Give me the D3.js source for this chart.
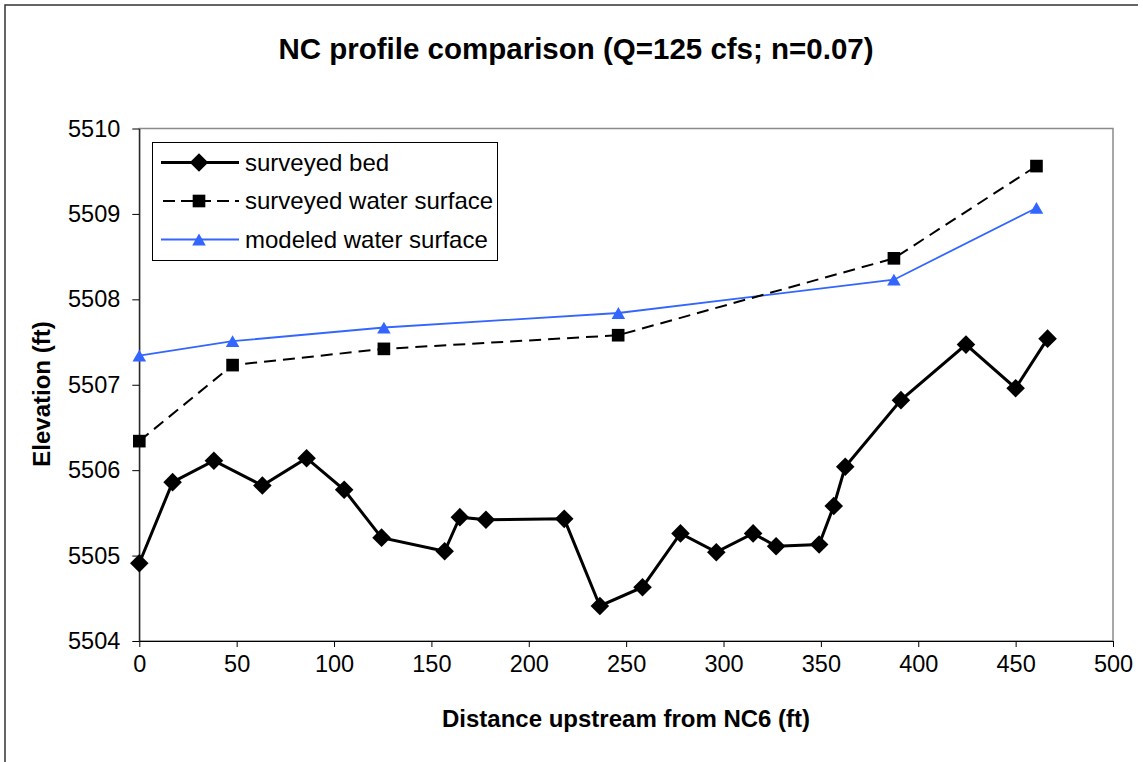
<!DOCTYPE html>
<html><head><meta charset="utf-8">
<script src="https://cdn.jsdelivr.net/npm/d3@7"></script>
<style>body{margin:0;background:#fff}svg{display:block}text{font-family:"Liberation Sans",Arial,sans-serif}</style>
</head><body><svg id="c" width="1143" height="762"></svg>
<script>
const bedX = [0,17.1,38.3,63.2,85.9,105.2,124.4,156.8,164.6,178,218.2,236.5,258.4,277.9,296.3,315.2,327,349.1,356.6,362.5,391.1,424.5,450,466.4];
const bedY = [5504.91,5505.86,5506.11,5505.82,5506.14,5505.77,5505.21,5505.05,5505.45,5505.42,5505.43,5504.41,5504.63,5505.26,5505.04,5505.26,5505.11,5505.13,5505.58,5506.04,5506.82,5507.47,5506.96,5507.54];
const wsX = [0,47.9,125.6,245.9,387.5,460.7];
const wsY = [5506.34,5507.23,5507.42,5507.58,5508.48,5509.56];
const modX = [0,47.9,125.6,246,387.5,460.7];
const modY = [5507.34,5507.51,5507.67,5507.84,5508.23,5509.07];
const xTicks = [0,50,100,150,200,250,300,350,400,450,500];
const yTicks = [5504,5505,5506,5507,5508,5509,5510];
const seriesNames = ["surveyed bed","surveyed water surface","modeled water surface"];

const svg = d3.select("#c");
const L=139.3,R=1113,T=128.5,B=641;
const x = d3.scaleLinear().domain([0,500]).range([L,R]);
const y = d3.scaleLinear().domain([5504,5510]).range([B,T]);

// outer frame (top & left)
svg.append("path").attr("d","M5,762V5H1138").attr("fill","none").attr("stroke","#333").attr("stroke-width",1.5);

// plot border
svg.append("rect").attr("x",L).attr("y",T).attr("width",R-L).attr("height",B-T)
  .attr("fill","#fff").attr("stroke","#8a8a8a").attr("stroke-width",1.5);

// axes
const xa = svg.append("g").attr("transform",`translate(0,${B})`)
  .call(d3.axisBottom(x).tickValues(xTicks).tickSize(6).tickPadding(8).tickSizeOuter(0));
xa.select(".domain").attr("stroke","#000");
xa.selectAll("text").attr("font-size",23.5).attr("fill","#000");
const ya = svg.append("g").attr("transform",`translate(${L},0)`)
  .call(d3.axisLeft(y).tickValues(yTicks).tickFormat(d3.format("d")).tickSize(7).tickPadding(12).tickSizeOuter(0));
ya.select(".domain").attr("stroke","#000");
ya.selectAll("text").attr("font-size",23.5).attr("fill","#000");

// titles
svg.append("text").attr("x",576).attr("y",59).attr("text-anchor","middle")
  .attr("font-size",29.5).attr("font-weight","bold").text("NC profile comparison (Q=125 cfs; n=0.07)");
svg.append("text").attr("x",626).attr("y",727).attr("text-anchor","middle")
  .attr("font-size",24).attr("font-weight","bold").text("Distance upstream from NC6 (ft)");
svg.append("text").attr("transform","translate(50,394) rotate(-90)").attr("text-anchor","middle")
  .attr("font-size",24).attr("font-weight","bold").text("Elevation (ft)");

const line = d3.line().x(d=>x(d[0])).y(d=>y(d[1]));
const bed = bedX.map((v,i)=>[v,bedY[i]]);
const ws = wsX.map((v,i)=>[v,wsY[i]]);
const mod = modX.map((v,i)=>[v,modY[i]]);

const blue="#3366ff";
svg.append("path").datum(mod).attr("d",line).attr("fill","none").attr("stroke",blue).attr("stroke-width",1.8);
svg.append("path").datum(ws).attr("d",line).attr("fill","none").attr("stroke","#000").attr("stroke-width",2).attr("stroke-dasharray","12,7");
svg.append("path").datum(bed).attr("d",line).attr("fill","none").attr("stroke","#000").attr("stroke-width",3);

const diamond = d3.symbol().type(d3.symbolDiamond2).size(220);
const square = d3.symbol().type(d3.symbolSquare).size(160);
const triSize = 80;
const tri = d3.symbol().type(d3.symbolTriangle).size(triSize);
const triOff = Math.sqrt(triSize/(Math.sqrt(3)*3))*0.5;

svg.selectAll(".bm").data(bed).join("path").attr("d",diamond)
  .attr("transform",d=>`translate(${x(d[0])},${y(d[1])})`).attr("fill","#000");
svg.selectAll(".wm").data(ws).join("path").attr("d",square)
  .attr("transform",d=>`translate(${x(d[0])},${y(d[1])})`).attr("fill","#000");
svg.selectAll(".mm").data(mod).join("path").attr("d",tri)
  .attr("transform",d=>`translate(${x(d[0])},${y(d[1])+triOff})`).attr("fill",blue);

// legend
const lg = svg.append("g");
lg.append("rect").attr("x",152.5).attr("y",142.5).attr("width",345).attr("height",118)
  .attr("fill","#fff").attr("stroke","#000").attr("stroke-width",1);
const rows=[162.5,201,239.5];
const lx0=161,lx1=239,mx=199;
lg.append("line").attr("x1",lx0).attr("x2",lx1).attr("y1",rows[0]).attr("y2",rows[0]).attr("stroke","#000").attr("stroke-width",3);
lg.append("path").attr("d",diamond).attr("transform",`translate(${mx},${rows[0]})`).attr("fill","#000");
lg.append("line").attr("x1",lx0+2).attr("x2",lx1).attr("y1",rows[1]).attr("y2",rows[1]).attr("stroke","#000").attr("stroke-width",2).attr("stroke-dasharray","12,6");
lg.append("path").attr("d",square).attr("transform",`translate(${mx},${rows[1]})`).attr("fill","#000");
lg.append("line").attr("x1",lx0).attr("x2",lx1).attr("y1",rows[2]).attr("y2",rows[2]).attr("stroke",blue).attr("stroke-width",1.8);
lg.append("path").attr("d",tri).attr("transform",`translate(${mx},${rows[2]+triOff})`).attr("fill",blue);
seriesNames.forEach((n,i)=>{
  lg.append("text").attr("x",245).attr("y",rows[i]+8).attr("font-size",24).text(n);
});
</script></body></html>
